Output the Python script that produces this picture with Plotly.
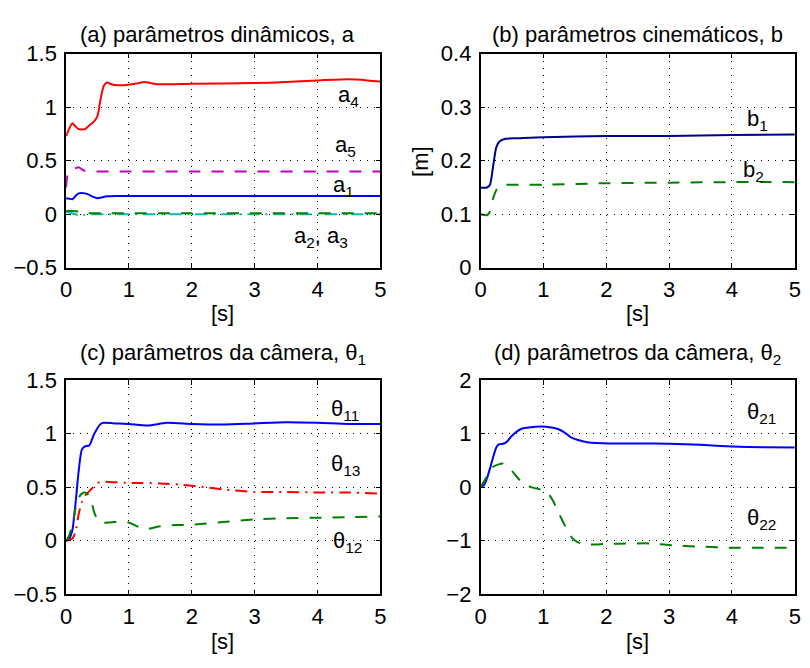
import plotly.graph_objects as go

# ---------------- data ----------------
# (a) dynamic parameters
t_a4 = [0, 0.05, 0.1, 0.15, 0.2, 0.3, 0.35, 0.45, 0.5, 0.55, 0.6, 0.65, 0.72, 0.82, 1.0, 1.15, 1.25, 1.35, 1.45, 2.0, 3.0, 3.5, 4.0, 4.5, 4.8, 5.0]
a4 = [0.73, 0.80, 0.85, 0.82, 0.795, 0.795, 0.82, 0.87, 0.92, 1.08, 1.20, 1.23, 1.215, 1.205, 1.21, 1.225, 1.235, 1.225, 1.215, 1.22, 1.225, 1.235, 1.25, 1.26, 1.25, 1.24]
t_a5 = [0, 0.02, 0.05, 0.1, 0.15, 0.2, 0.25, 0.3, 0.4, 1.0, 2.0, 3.0, 4.0, 5.0]
a5 = [0.25, 0.36, 0.40, 0.42, 0.43, 0.44, 0.42, 0.405, 0.40, 0.40, 0.40, 0.40, 0.40, 0.40]
t_a1 = [0, 0.05, 0.1, 0.15, 0.2, 0.3, 0.35, 0.42, 0.5, 0.55, 0.65, 0.8, 1.0, 2.0, 3.0, 4.0, 5.0]
a1 = [0.15, 0.145, 0.14, 0.17, 0.195, 0.195, 0.185, 0.165, 0.15, 0.155, 0.167, 0.17, 0.17, 0.17, 0.17, 0.17, 0.17]
t_a2 = [0, 0.1, 0.2, 0.25, 0.3, 0.5, 1.0, 2.0, 3.0, 4.0, 5.0]
a2 = [0.03, 0.03, 0.025, 0.015, 0.01, 0.01, 0.01, 0.01, 0.01, 0.01, 0.01]
t_a3 = [0, 0.1, 0.15, 0.2, 0.25, 0.3, 0.4, 0.6, 1.0, 2.0, 3.0, 4.0, 5.0]
a3 = [0.02, 0.01, 0.0, -0.012, -0.015, -0.005, 0.0, 0.0, 0.0, 0.0, 0.0, 0.0, 0.0]

# (b) kinematic parameters
t_b1 = [0, 0.1, 0.15, 0.2, 0.25, 0.3, 0.4, 0.6, 1.0, 2.0, 3.0, 4.0, 5.0]
b1 = [0.15, 0.15, 0.155, 0.19, 0.225, 0.236, 0.241, 0.242, 0.244, 0.246, 0.246, 0.248, 0.249]
t_b2 = [0, 0.1, 0.15, 0.2, 0.25, 0.3, 0.4, 0.6, 1.0, 2.0, 3.0, 4.0, 5.0]
b2 = [0.10, 0.098, 0.105, 0.13, 0.145, 0.152, 0.155, 0.155, 0.155, 0.158, 0.159, 0.16, 0.16]

# (c) camera parameters theta_1
t_c = [0, 0.05, 0.1, 0.15, 0.2, 0.25, 0.3, 0.37, 0.45, 0.55, 0.6, 0.8, 1.0, 1.3, 1.6, 2.0, 2.5, 3.0, 3.5, 4.0, 4.5, 5.0]
th11 = [0, 0.02, 0.1, 0.35, 0.65, 0.85, 0.88, 0.89, 1.0, 1.09, 1.10, 1.095, 1.09, 1.075, 1.10, 1.09, 1.085, 1.095, 1.105, 1.10, 1.09, 1.09]
t_c13 = [0, 0.1, 0.15, 0.2, 0.25, 0.3, 0.4, 0.5, 0.6, 0.8, 1.0, 1.2, 1.5, 1.8, 2.2, 2.5, 3.0, 3.5, 4.0, 4.5, 5.0]
th13 = [0, 0.02, 0.08, 0.25, 0.36, 0.42, 0.48, 0.54, 0.55, 0.545, 0.54, 0.54, 0.535, 0.525, 0.50, 0.48, 0.455, 0.455, 0.45, 0.45, 0.44]
t_c12 = [0, 0.05, 0.1, 0.15, 0.2, 0.25, 0.3, 0.35, 0.4, 0.45, 0.5, 0.56, 0.7, 0.9, 1.0, 1.15, 1.3, 1.5, 1.75, 2.0, 2.5, 3.0, 3.5, 4.0, 4.5, 5.0]
th12 = [0, 0.05, 0.15, 0.3, 0.4, 0.44, 0.45, 0.43, 0.37, 0.26, 0.2, 0.17, 0.17, 0.18, 0.17, 0.13, 0.112, 0.135, 0.146, 0.15, 0.175, 0.2, 0.21, 0.215, 0.22, 0.227]

# (d) camera parameters theta_2
t_d21 = [0, 0.05, 0.1, 0.15, 0.21, 0.25, 0.29, 0.36, 0.42, 0.5, 0.65, 0.8, 0.97, 1.1, 1.23, 1.35, 1.44, 1.55, 1.7, 2.06, 2.5, 3.0, 3.5, 4.0, 4.5, 5.0]
th21 = [0, 0.03, 0.16, 0.35, 0.6, 0.74, 0.80, 0.81, 0.85, 0.96, 1.09, 1.12, 1.13, 1.12, 1.085, 1.01, 0.93, 0.88, 0.84, 0.815, 0.815, 0.81, 0.79, 0.76, 0.745, 0.74]
t_d22 = [0, 0.1, 0.2, 0.3, 0.35, 0.5, 0.65, 0.8, 0.97, 1.07, 1.15, 1.25, 1.38, 1.46, 1.55, 1.7, 2.0, 2.4, 2.7, 3.0, 3.5, 4.0, 4.5, 5.0]
th22 = [0, 0.2, 0.38, 0.43, 0.44, 0.3, 0.1, 0.0, -0.05, -0.11, -0.25, -0.5, -0.8, -0.95, -1.03, -1.07, -1.06, -1.05, -1.05, -1.08, -1.11, -1.13, -1.13, -1.13]

x_ticks = [0, 1, 2, 3, 4, 5]
yticks_a = [-0.5, 0, 0.5, 1, 1.5]
yticks_b = [0, 0.1, 0.2, 0.3, 0.4]
yticks_c = [-0.5, 0, 0.5, 1, 1.5]
yticks_d = [-2, -1, 0, 1, 2]

titles = ["(a) parâmetros dinâmicos, a", "(b) parâmetros cinemáticos, b",
          "(c) parâmetros da câmera, θ<sub>1</sub>", "(d) parâmetros da câmera, θ<sub>2</sub>"]

# ---------------- styling ----------------
FONT = "Liberation Sans, Arial, Helvetica, sans-serif"
FS = 22
TFS = 22
W, H = 810, 668
RED, BLUE, MAG, GRN, CYN, NAVY = "#ff0000", "#0000ff", "#c400c4", "#008000", "#00bfbf", "#00008f"
DASH = "12px,11px"
DASHDOT = "12px,6px,2px,6px"

fig = go.Figure()

def add(t, y, color, dash, xa, ya):
    fig.add_trace(go.Scatter(x=t, y=y, mode="lines", xaxis=xa, yaxis=ya,
                             line=dict(color=color, width=2, dash=dash, shape="spline", smoothing=0.6),
                             showlegend=False, hoverinfo="skip"))

add(t_a4, a4, RED, "solid", "x", "y")
add(t_a5, a5, MAG, DASH, "x", "y")
add(t_a1, a1, BLUE, "solid", "x", "y")
add(t_a3, a3, CYN, DASHDOT, "x", "y")
add(t_a2, a2, GRN, DASH, "x", "y")
add(t_b1, b1, NAVY, "solid", "x2", "y2")
add(t_b2, b2, GRN, DASH, "x2", "y2")
add(t_c, th11, BLUE, "solid", "x3", "y3")
add(t_c13, th13, RED, DASHDOT, "x3", "y3")
add(t_c12, th12, GRN, DASH, "x3", "y3")
add(t_d21, th21, BLUE, "solid", "x4", "y4")
add(t_d22, th22, GRN, DASH, "x4", "y4")

# pixel boxes of plot areas (left, right, top, bottom)
boxes = [(61, 380, 43.3, 265.7), (481.7, 800.7, 43.3, 265.7),
         (61, 380, 382.3, 605), (481.7, 800.7, 382.3, 605)]
yranges = [(-0.5, 1.5), (0, 0.4), (-0.5, 1.5), (-2, 2)]
yticks = [yticks_a, yticks_b, yticks_c, yticks_d]
ytexts = [["−0.5", "0", "0.5", "1", "1.5"], ["0", "0.1", "0.2", "0.3", "0.4"],
          ["−0.5", "0", "0.5", "1", "1.5"], ["−2", "−1", "0", "1", "2"]]

axcommon = dict(showline=True, linecolor="black", linewidth=1.5, mirror="ticks",
                ticks="inside", ticklen=5, tickcolor="black", tickwidth=1,
                showgrid=True, gridcolor="black", gridwidth=1, griddash="1px,6px",
                zeroline=False, tickfont=dict(family=FONT, size=TFS, color="black"))

layout = dict(width=W, height=H, margin=dict(l=0, r=0, t=0, b=0),
              paper_bgcolor="white", plot_bgcolor="white", showlegend=False,
              font=dict(family=FONT, size=FS, color="black"))
for i, (l, r, tp, bt) in enumerate(boxes):
    sfx = "" if i == 0 else str(i + 1)
    layout["xaxis" + sfx] = dict(axcommon, domain=[l / W, r / W], range=[0, 5],
                                 tickvals=x_ticks, ticktext=[str(v) for v in x_ticks],
                                 anchor="y" + sfx, ticklabelstandoff=1)
    layout["yaxis" + sfx] = dict(axcommon, domain=[1 - bt / H, 1 - tp / H], range=list(yranges[i]),
                                 tickvals=yticks[i], ticktext=ytexts[i],
                                 anchor="x" + sfx, ticklabelstandoff=3)
fig.update_layout(**layout)

anns = []
# titles
title_pos = [(215, 23), (641, 23), (220, 355), (641, 355)]
for txt, (px, py) in zip(titles, title_pos):
    anns.append(dict(text=txt, x=px / W, y=1 - py / H, xref="paper", yref="paper",
                     xanchor="center", yanchor="middle", showarrow=False,
                     font=dict(family=FONT, size=FS, color="black")))
# x axis labels
for px, py in [(220, 313), (641, 313), (220, 654), (641, 654)]:
    anns.append(dict(text="[s]", x=px / W, y=1 - py / H, xref="paper", yref="paper",
                     xanchor="center", yanchor="middle", showarrow=False,
                     font=dict(family=FONT, size=TFS, color="black")))
# y axis label for (b)
anns.append(dict(text="[m]", x=420 / W, y=1 - 155 / H, xref="paper", yref="paper",
                 xanchor="center", yanchor="middle", showarrow=False, textangle=-90,
                 font=dict(family=FONT, size=TFS, color="black")))

# curve labels (data coordinates)
labels = [("a<sub>4</sub>", 4.29, 1.10, "x", "y"), ("a<sub>5</sub>", 4.24, 0.64, "x", "y"),
          ("a<sub>1</sub>", 4.21, 0.26, "x", "y"), ("a<sub>2</sub>, a<sub>3</sub>", 3.59, -0.21, "x", "y"),
          ("b<sub>1</sub>", 4.2, 0.276, "x2", "y2"), ("b<sub>2</sub>", 4.14, 0.181, "x2", "y2"),
          ("θ<sub>11</sub>", 4.19, 1.22, "x3", "y3"), ("θ<sub>13</sub>", 4.19, 0.71, "x3", "y3"),
          ("θ<sub>12</sub>", 4.22, -0.01, "x3", "y3"),
          ("θ<sub>21</sub>", 4.2, 1.39, "x4", "y4"), ("θ<sub>22</sub>", 4.2, -0.6, "x4", "y4")]
for txt, x, y, xr, yr in labels:
    anns.append(dict(text=txt, x=x, y=y, xref=xr, yref=yr, xanchor="left", yanchor="middle",
                     showarrow=False, font=dict(family=FONT, size=TFS, color="black")))

fig.update_layout(annotations=anns)
fig.write_html("out.html")
